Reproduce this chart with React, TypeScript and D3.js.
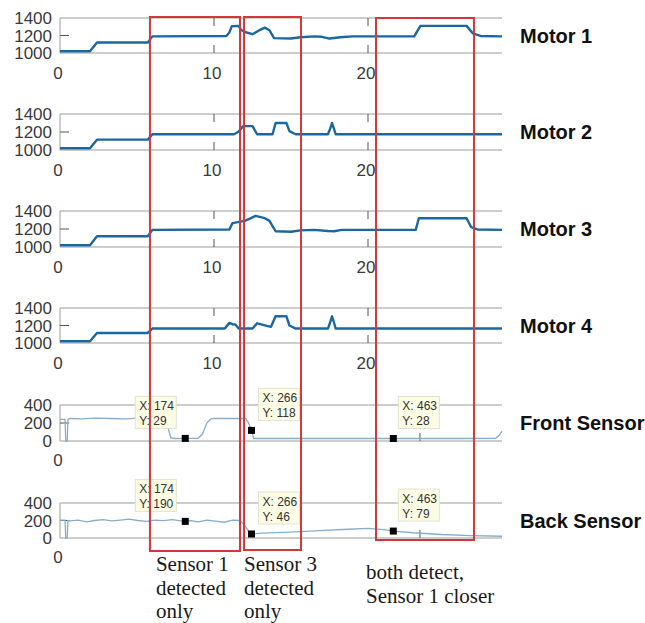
import React, { useEffect, useRef } from "react";
import * as d3 from "d3";

// motor speed traces, time in seconds
const motor1T = [0, 1.95, 2.4, 5.7, 6.0, 10.8, 11.0, 11.15, 11.6, 11.75, 12.0, 12.5, 13.0, 13.3, 13.6, 13.9, 15.0, 15.6, 16.5, 17.0, 17.5, 18.2, 19.0, 23.0, 23.4, 26.4, 26.8, 27.3, 28.7];
const motor1V = [1020, 1020, 1120, 1120, 1190, 1195, 1235, 1305, 1310, 1265, 1240, 1215, 1265, 1290, 1260, 1170, 1165, 1180, 1190, 1185, 1165, 1180, 1190, 1190, 1310, 1310, 1225, 1195, 1190];

const motor2T = [0, 1.95, 2.4, 5.7, 6.0, 11.3, 11.56, 11.9, 12.5, 12.8, 13.8, 14.0, 14.7, 14.9, 15.3, 17.4, 17.55, 17.66, 17.78, 17.9, 28.7];
const motor2V = [1020, 1020, 1115, 1115, 1175, 1175, 1200, 1265, 1265, 1175, 1175, 1300, 1300, 1210, 1175, 1175, 1240, 1300, 1240, 1175, 1175];

const motor3T = [0, 1.95, 2.4, 5.7, 6.0, 11.0, 11.2, 12.0, 12.4, 12.7, 13.3, 13.6, 14.0, 15.0, 15.6, 16.5, 17.4, 17.8, 18.3, 23.1, 23.3, 26.4, 26.7, 27.1, 28.7];
const motor3V = [1020, 1020, 1120, 1120, 1190, 1195, 1265, 1290, 1320, 1345, 1320, 1290, 1175, 1170, 1185, 1190, 1178, 1175, 1190, 1190, 1320, 1320, 1220, 1195, 1190];

const motor4T = [0, 1.95, 2.4, 5.7, 6.0, 10.7, 11.0, 11.2, 11.4, 11.6, 12.5, 12.8, 13.7, 14.0, 14.7, 14.9, 15.3, 17.4, 17.55, 17.66, 17.78, 17.9, 28.7];
const motor4V = [1020, 1020, 1115, 1115, 1165, 1165, 1230, 1215, 1210, 1165, 1165, 1225, 1185, 1305, 1305, 1200, 1165, 1165, 1240, 1305, 1240, 1165, 1165];

// sensor readings, x = sample index
const frontS = [0, 7, 8, 10, 11, 14, 30, 50, 70, 90, 110, 130, 146, 150, 154, 160, 174, 192, 198, 204, 210, 220, 240, 258, 262, 266, 269, 300, 400, 500, 560, 605, 610, 614];
const frontV = [240, 240, 0, 0, 240, 250, 245, 255, 250, 245, 255, 248, 250, 150, 35, 28, 29, 30, 80, 200, 248, 250, 252, 250, 200, 118, 28, 28, 28, 28, 28, 30, 60, 110];

const backS = [0, 7, 8, 10, 11, 14, 25, 37, 48, 60, 72, 84, 96, 108, 120, 132, 144, 156, 168, 174, 180, 192, 204, 216, 228, 240, 250, 256, 262, 266, 280, 320, 360, 400, 428, 450, 463, 490, 530, 570, 614];
const backV = [205, 205, 0, 0, 200, 195, 205, 185, 200, 210, 195, 205, 215, 200, 190, 205, 198, 210, 195, 190, 200, 185, 205, 192, 180, 205, 200, 150, 80, 46, 55, 68, 85, 100, 110, 95, 79, 60, 40, 28, 20];

// data tips (sample, value)
const frontTipX = [174, 266, 463];
const frontTipY = [29, 118, 28];
const backTipX = [174, 266, 463];
const backTipY = [190, 46, 79];

const motorNames = ["Motor 1", "Motor 2", "Motor 3", "Motor 4"];
const sensorNames = ["Front Sensor", "Back Sensor"];
const motorTicks = [0, 10, 20];
const motorYTicks = [1000, 1200, 1400];
const sensorYTicks = [0, 200, 400];

// highlighted windows, in seconds
const windowStart = [5.84, 11.95, 20.52];
const windowEnd = [11.69, 15.65, 26.88];
const windowNotes = [
  ["Sensor 1", "detected", "only"],
  ["Sensor 3", "detected", "only"],
  ["both detect,", "Sensor 1 closer"],
];

const W = 645;
const H = 623;
const left = 60;
const right = 502;

export default function App() {
  const ref = useRef<SVGSVGElement>(null);

  useEffect(() => {
    const svg = d3.select(ref.current);
    svg.selectAll("*").remove();

    const xT = d3.scaleLinear().domain([0, 28.7]).range([left, right]);
    const xS = d3.scaleLinear().domain([0, 614]).range([left, right]);

    const motorBands = [[18, 53], [114, 150], [211, 247], [308, 343]];
    const sensorBands = [[405, 441], [503, 538]];
    const motors = [
      [motor1T, motor1V],
      [motor2T, motor2V],
      [motor3T, motor3V],
      [motor4T, motor4V],
    ];
    const sensors = [
      [frontS, frontV, frontTipX, frontTipY],
      [backS, backV, backTipX, backTipY],
    ];

    function panel(top: number, bottom: number, yDom: number[], yTicks: number[], name: string) {
      const g = svg.append("g");
      const y = d3.scaleLinear().domain(yDom).range([bottom, top]);
      g.append("path")
        .attr("d", `M${right},${top}H${left}V${bottom}H${right}`)
        .attr("fill", "none")
        .attr("stroke", "#9c9c9c")
        .attr("stroke-width", 1);
      g.selectAll(".yl")
        .data(yTicks)
        .join("text")
        .attr("x", 52)
        .attr("y", d => y(d))
        .attr("dy", "0.36em")
        .attr("text-anchor", "end")
        .attr("font-family", "Liberation Sans, Arial, sans-serif")
        .attr("font-size", 17)
        .attr("fill", "#3a3a3a")
        .text(d => d);
      g.append("line")
        .attr("x1", left).attr("x2", left + 9)
        .attr("y1", y(yTicks[1])).attr("y2", y(yTicks[1]))
        .attr("stroke", "#555");
      svg.append("text")
        .attr("x", 520)
        .attr("y", (top + bottom) / 2 + 7)
        .attr("font-family", "Liberation Sans, Arial, sans-serif")
        .attr("font-weight", "bold")
        .attr("font-size", 20)
        .attr("fill", "#111")
        .text(name);
      return { g, y };
    }

    motors.forEach((m, i) => {
      const [top, bottom] = motorBands[i];
      const { g, y } = panel(top, bottom, [1000, 1400], motorYTicks, motorNames[i]);
      motorTicks.slice(1).forEach(t => {
        g.append("line").attr("x1", xT(t)).attr("x2", xT(t)).attr("y1", top).attr("y2", top + 8).attr("stroke", "#555");
        g.append("line").attr("x1", xT(t)).attr("x2", xT(t)).attr("y1", bottom).attr("y2", bottom - 8).attr("stroke", "#555");
      });
      g.selectAll(".xl")
        .data(motorTicks)
        .join("text")
        .attr("x", d => xT(d) - 2)
        .attr("y", bottom + 26)
        .attr("text-anchor", "middle")
        .attr("font-family", "Liberation Sans, Arial, sans-serif")
        .attr("font-size", 17)
        .attr("fill", "#3a3a3a")
        .text(d => d);
      const line = d3.line<number>()
        .x((_, k) => xT(m[0][k]))
        .y(d => y(d));
      g.append("path")
        .attr("d", line(m[1]))
        .attr("fill", "none")
        .attr("stroke", "#1b67a0")
        .attr("stroke-width", 2.4)
        .attr("stroke-linejoin", "round");
    });

    const tipDx = [-50, 7, 5];
    sensors.forEach((s, i) => {
      const [top, bottom] = sensorBands[i];
      const { g, y } = panel(top, bottom, [0, 400], sensorYTicks, sensorNames[i]);
      g.append("line").attr("x1", xS(500)).attr("x2", xS(500)).attr("y1", bottom).attr("y2", bottom - 8).attr("stroke", "#555");
      g.append("text")
        .attr("x", xS(0) - 2)
        .attr("y", bottom + 25)
        .attr("text-anchor", "middle")
        .attr("font-family", "Liberation Sans, Arial, sans-serif")
        .attr("font-size", 17)
        .attr("fill", "#3a3a3a")
        .text(0);
      const line = d3.line<number>()
        .x((_, k) => xS(s[0][k]))
        .y(d => y(d));
      g.append("path")
        .attr("d", line(s[1]))
        .attr("fill", "none")
        .attr("stroke", "#86aecb")
        .attr("stroke-width", 1.3);
      s[2].forEach((tx, k) => {
        const mx = xS(tx);
        const my = y(s[3][k]);
        g.append("rect")
          .attr("x", mx - 3.5).attr("y", my - 3.5)
          .attr("width", 7).attr("height", 7)
          .attr("fill", "#000");
        const bx = mx + tipDx[k];
        const by = my - 42;
        g.append("rect")
          .attr("x", bx).attr("y", by)
          .attr("width", 41).attr("height", 32)
          .attr("fill", "#fdfde6")
          .attr("stroke", "#e2e2d0");
        g.append("text")
          .attr("x", bx + 4).attr("y", by + 14)
          .attr("font-family", "Liberation Sans, Arial, sans-serif")
          .attr("font-size", 12)
          .attr("fill", "#333")
          .text(`X: ${tx}`);
        g.append("text")
          .attr("x", bx + 4).attr("y", by + 29)
          .attr("font-family", "Liberation Sans, Arial, sans-serif")
          .attr("font-size", 12)
          .attr("fill", "#333")
          .text(`Y: ${s[3][k]}`);
      });
    });

    const windowBottom = [551, 550, 540];
    const windowTop = [17, 17, 18];
    const noteY = [571, 571, 579];
    windowStart.forEach((t0, i) => {
      svg.append("rect")
        .attr("x", xT(t0)).attr("y", windowTop[i])
        .attr("width", xT(windowEnd[i]) - xT(t0))
        .attr("height", windowBottom[i] - windowTop[i])
        .attr("fill", "none")
        .attr("stroke", "#d4363c")
        .attr("stroke-width", 2);
      svg.append("text")
        .attr("font-family", "Liberation Serif, Times New Roman, serif")
        .attr("font-size", 21)
        .attr("fill", "#1a1a1a")
        .selectAll("tspan")
        .data(windowNotes[i])
        .join("tspan")
        .attr("x", xT(t0) + (i === 2 ? -10 : 6 - i * 6))
        .attr("y", (_, k) => noteY[i] + k * 23.5)
        .text(d => d);
    });
  }, []);

  return (
    <svg
      ref={ref}
      width={W}
      height={H}
      style={{ position: "absolute", left: 0, top: 0, background: "#fff" }}
    />
  );
}
